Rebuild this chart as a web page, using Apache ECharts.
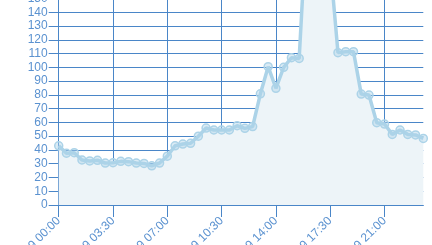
<!DOCTYPE html>
<html><head><meta charset="utf-8">
<script src="https://cdn.jsdelivr.net/npm/echarts@6/dist/echarts.min.js"></script>
<style>html,body{margin:0;padding:0;background:#fff}#c{width:432px;height:245px}</style>
</head><body><div id="c"></div>
<script>
var categories = [];
var hours = ['00','01','02','03','04','05','06','07','08','09','10','11','12','13','14','15','16','17','18','19','20','21','22','23'];
for (var h = 0; h < hours.length; h++) {
  categories.push('2019-06-09 ' + hours[h] + ':00');
  categories.push('2019-06-09 ' + hours[h] + ':30');
}
var values = [43, 37.6, 38, 32.7, 32, 32.5, 30.5, 30.7, 31.7, 31.5, 30.5, 30.2, 28.5, 30.5, 35.5, 43,
  44.3, 44.8, 50, 55.9, 54.5, 54.5, 54.5, 57.6, 55.7, 57, 80.8, 100.5, 84.8, 100, 107, 106.5,
  210, 230, 200, 175, 110.7, 111.4, 111.4, 80.6, 79.9, 59.8, 58.8, 51.3, 54.5, 51.3, 50.9, 48.4];
var yTicks = {min: 0, max: 250, interval: 10};

var chart = echarts.init(document.getElementById('c'), null, {renderer: 'canvas'});
chart.setOption({
  animation: false,
  grid: {left: 58.7, right: 8.7, bottom: 40, top: 205 - 250 * 1.3764, containLabel: false, outerBoundsMode: 'none'},
  xAxis: {
    type: 'category', boundaryGap: false, data: categories,
    axisLine: {show: true, lineStyle: {color: '#4a86c8'}},
    axisTick: {show: true, interval: 6, length: 12, lineStyle: {color: '#4a86c8'}},
    axisLabel: {interval: 6, rotate: 45, color: '#5b92d0', fontSize: 12, margin: 14, fontFamily: 'Liberation Sans'},
    splitLine: {show: true, interval: 6, lineStyle: {color: '#4a86c8', width: 1}}
  },
  yAxis: {
    type: 'value', min: yTicks.min, max: yTicks.max, interval: yTicks.interval,
    axisLine: {show: true, lineStyle: {color: '#4a86c8'}},
    axisTick: {show: true, length: 10, lineStyle: {color: '#4a86c8'}},
    axisLabel: {color: '#5b92d0', fontSize: 12, margin: 11, fontFamily: 'Liberation Sans'},
    splitLine: {show: true, lineStyle: {color: '#4a86c8', width: 1}}
  },
  series: [{
    type: 'line', data: values, smooth: false,
    symbol: 'circle', symbolSize: 8, showSymbol: true, showAllSymbol: true,
    itemStyle: {color: 'rgba(172,211,232,0.45)', borderColor: '#acd3e8', borderWidth: 1.5},
    lineStyle: {color: '#acd3e8', width: 3.5},
    areaStyle: {color: '#edf4f8', opacity: 1}
  }]
});
</script></body></html>
